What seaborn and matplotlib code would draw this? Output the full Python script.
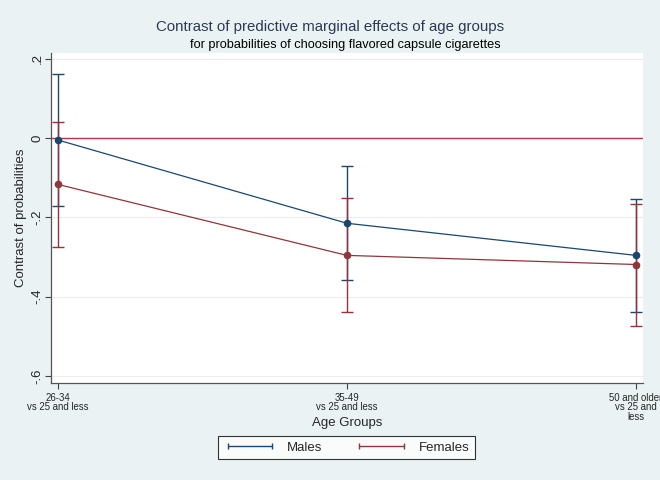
import numpy as np
import pandas as pd
import matplotlib
matplotlib.use("Agg")
import matplotlib.pyplot as plt
import seaborn as sns
from matplotlib.lines import Line2D

# 数据
groups = ["26-34\nvs 25 and less", "35-49\nvs 25 and less", "50 and older\nvs 25 and\nless"]
male_est = [-0.005, -0.215, -0.296]
male_lo = [-0.172, -0.359, -0.438]
male_hi = [0.162, -0.071, -0.154]
female_est = [-0.117, -0.296, -0.319]
female_lo = [-0.274, -0.439, -0.473]
female_hi = [0.040, -0.152, -0.167]
yticks = [0.2, 0, -0.2, -0.4, -0.6]
ytick_labels = [".2", "0", "-.2", "-.4", "-.6"]

navy = "#1a476f"
maroon = "#90353b"
bg = "#eaf2f3"

sns.set_theme(style="white")
plt.rcParams["font.family"] = ["Liberation Sans", "DejaVu Sans"]

pos = np.arange(1, len(groups) + 1)
df = pd.DataFrame({
    "pos": np.concatenate([pos, pos]),
    "est": male_est + female_est,
    "sex": ["Males"] * 3 + ["Females"] * 3,
})

fig = plt.figure(figsize=(6.6, 4.8), dpi=100, facecolor=bg)
ax = fig.add_axes([0.0773, 0.202, 0.8967, 0.688])
ax.set_facecolor("white")

for yv in yticks:
    ax.axhline(yv, color="#ececec", lw=0.8, zorder=0)
ax.axhline(0, color="#c0304a", lw=1.0, zorder=1)

for lo, hi, col in [(male_lo, male_hi, navy), (female_lo, female_hi, maroon)]:
    ax.vlines(pos, lo, hi, color=col, lw=1.0, zorder=2)
    ax.hlines(lo, pos - 0.021, pos + 0.021, color=col, lw=1.0, zorder=2)
    ax.hlines(hi, pos - 0.021, pos + 0.021, color=col, lw=1.0, zorder=2)

sns.lineplot(data=df, x="pos", y="est", hue="sex", palette={"Males": navy, "Females": maroon},
             marker="o", markersize=5.5, markeredgewidth=0, lw=0.9, ax=ax, legend=False, zorder=3)

ax.set_xlim(0.976, 3.024)
ax.set_ylim(-0.618, 0.215)
ax.set_xticks(pos)
ax.set_xticklabels(groups, fontsize=6.9, linespacing=0.95)
ax.set_yticks(yticks)
ax.set_yticklabels(ytick_labels, fontsize=9.5, rotation=90, va="center")
ax.tick_params(axis="both", direction="out", length=4, width=0.8, color="#444444", bottom=True, left=True)
ax.tick_params(axis="x", pad=3)
ax.tick_params(axis="y", pad=1.5)
for s in ["top", "right"]:
    ax.spines[s].set_visible(False)
for s in ["left", "bottom"]:
    ax.spines[s].set_color("#555555")
    ax.spines[s].set_linewidth(0.9)

ax.set_xlabel("Age Groups", fontsize=9.5)
ax.xaxis.set_label_coords(0.5, -0.104)
ax.set_ylabel("Contrast of probabilities", fontsize=9.5)
ax.yaxis.set_label_coords(-0.041, 0.5)

fig.text(0.5, 0.943, "Contrast of predictive marginal effects of age groups",
         ha="center", va="center", fontsize=10.8, color="#2b3a55")
fig.text(0.523, 0.906, "for probabilities of choosing flavored capsule cigarettes",
         ha="center", va="center", fontsize=9.2, color="black")

handles = [Line2D([0, 1], [0, 0], color=navy, lw=1, marker="|", markersize=5),
           Line2D([0, 1], [0, 0], color=maroon, lw=1, marker="|", markersize=5)]
leg = fig.legend(handles, ["Males", "Females"], loc="center", bbox_to_anchor=(0.525, 0.067),
                 ncol=2, numpoints=2, fontsize=9.5, frameon=True, fancybox=False,
                 edgecolor="black", handlelength=4, columnspacing=2.5, borderpad=0.4)
leg.get_frame().set_linewidth(0.8)

fig.savefig("out.png", dpi=100, facecolor=bg)
